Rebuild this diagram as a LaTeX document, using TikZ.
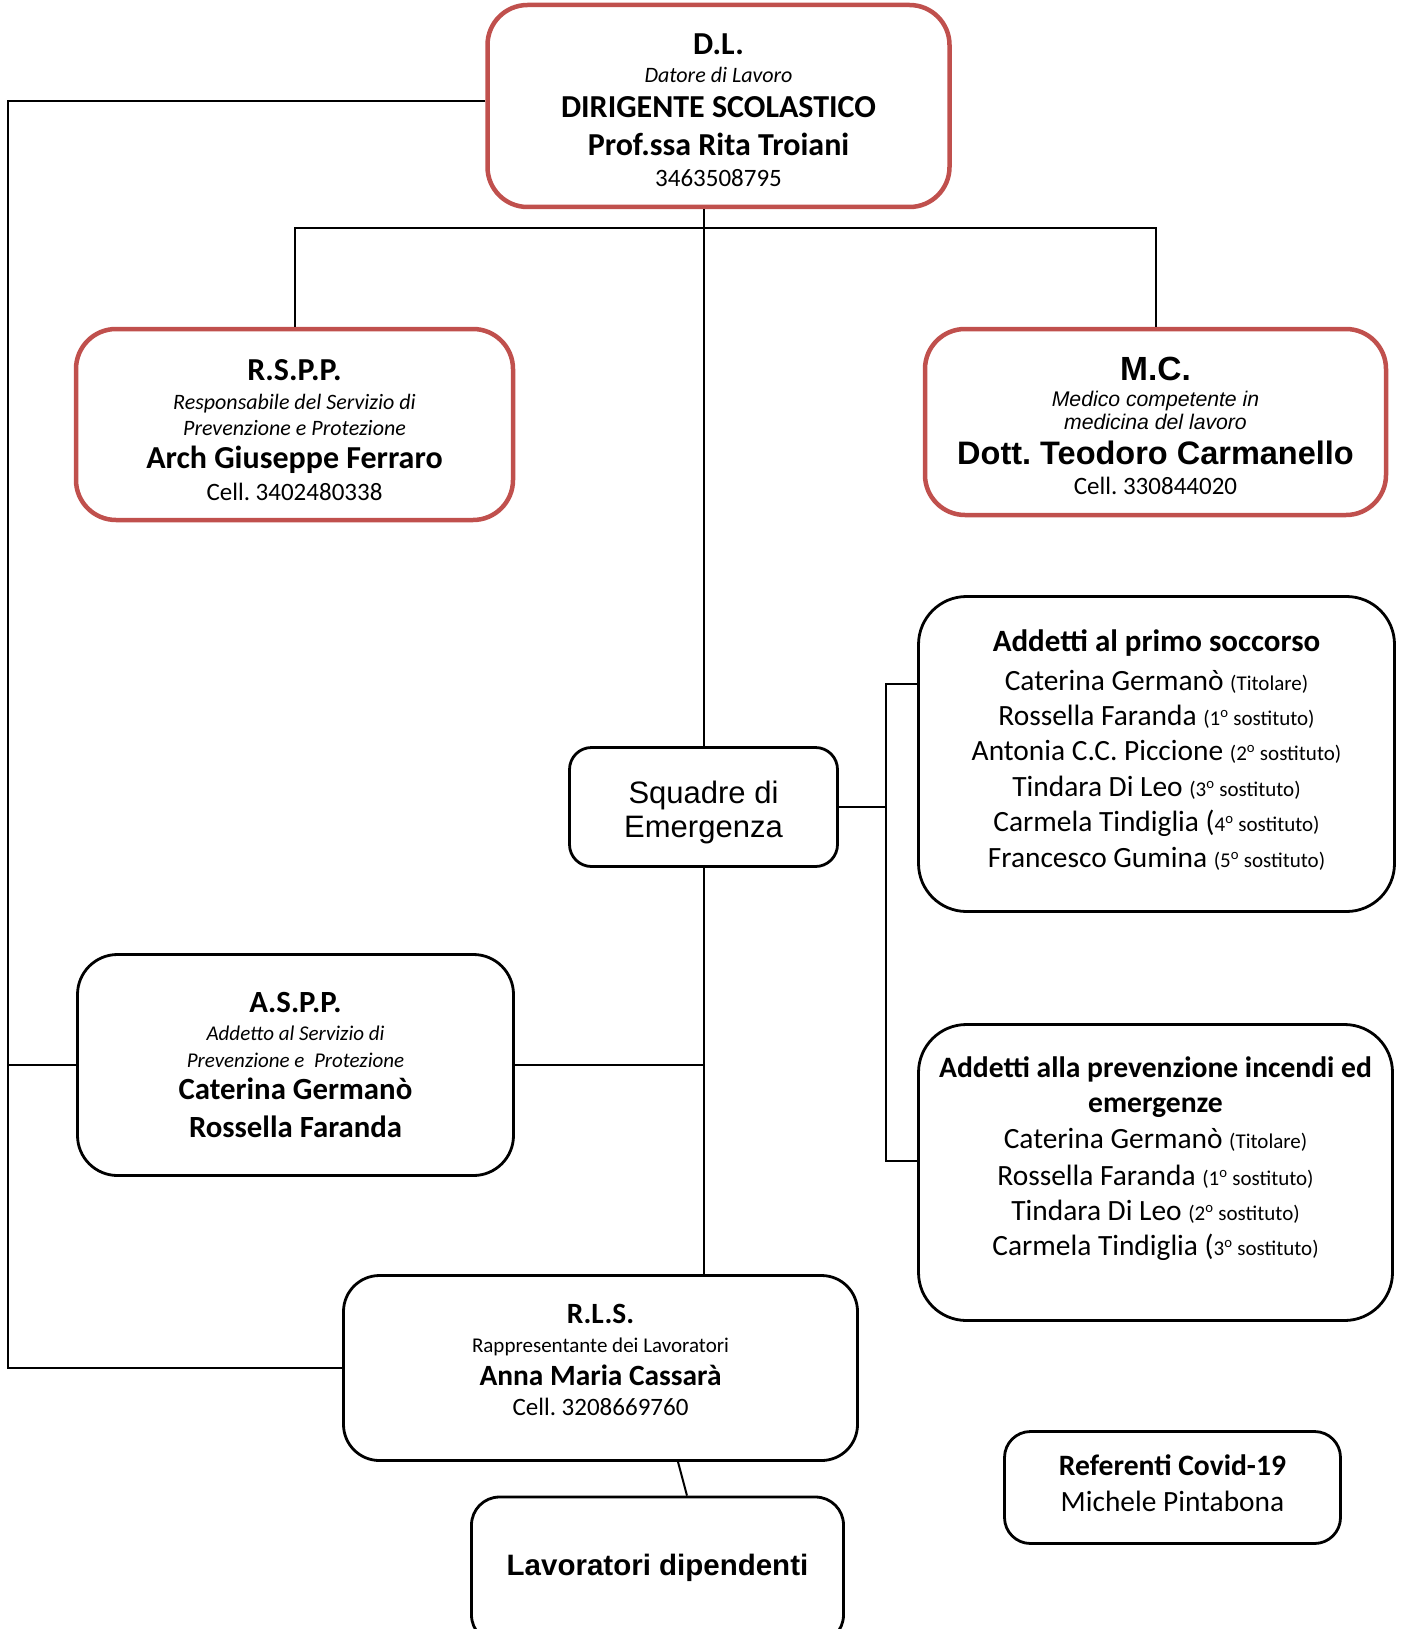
\documentclass[tikz,border=0pt]{standalone}
\usepackage{fontspec}
\setmainfont{Carlito}
\newfontfamily\arialfont{Liberation Sans}
\definecolor{boxred}{RGB}{192,80,77}
\newcommand{\rolefont}{\fontsize{22}{22}\selectfont\itshape}
\newcommand{\phonefont}{\fontsize{25}{25}\selectfont}
\newcommand{\smallnote}[1]{{\fontsize{21}{21}\selectfont #1}}
\newcommand{\boldline}[2]{{\fontsize{#1}{34}\selectfont\bfseries #2}}
\frenchspacing

\begin{document}
\begin{tikzpicture}[x=1pt,y=-1pt]
	\tikzstyle{redbox} = [rectangle,rounded corners=40pt,draw=boxred,line width=4.5pt,inner sep=0pt,align=center,font=\fontsize{32}{34}\selectfont]
	\tikzstyle{blackbox} = [rectangle,rounded corners=40pt,draw=black,line width=2.8pt,inner sep=0pt,align=center,font=\fontsize{29.4}{34}\selectfont]
	\tikzstyle{link} = [line width=2pt]
	\clip (0,0) rectangle (1404,1629);
	% top
	\node[redbox,minimum width=462pt,minimum height=202pt] (dl) at (718.5,106)
		{\rule{0pt}{38pt}{\bfseries D.L.}\\[-6pt]
		{\rolefont Datore di Lavoro}\\[1pt]
		{\bfseries DIRIGENTE SCOLASTICO}\\[4pt]
		{\bfseries Prof.ssa Rita Troiani}\\[-3pt]
		{\phonefont 3463508795}\rule[-8pt]{0pt}{8pt}};
	\node[redbox,minimum width=437pt,minimum height=191pt] (rspp) at (294.5,424.5)
		{\rule{0pt}{39pt}{\bfseries R.S.P.P.}\\[-5pt]
		{\rolefont Responsabile del Servizio di}\\[-8pt]
		{\rolefont Prevenzione e Protezione}\\[-1pt]
		{\bfseries Arch Giuseppe Ferraro}\\[-2pt]
		{\phonefont Cell. 3402480338}\rule[-8pt]{0pt}{8pt}};
	\node[redbox,minimum width=461pt,minimum height=186pt] (mc) at (1155.5,422)
		{\rule{0pt}{38pt}{\arialfont\bfseries\fontsize{33.5}{34}\selectfont M.C.}\\[-8pt]
		{\arialfont\itshape\fontsize{21.2}{22}\selectfont Medico competente in}\\[-11pt]
		{\arialfont\itshape\fontsize{21.2}{22}\selectfont medicina del lavoro}\\[1pt]
		{\arialfont\bfseries\fontsize{32.5}{34}\selectfont Dott. Teodoro Carmanello}\\[-4pt]
		{\phonefont Cell. 330844020}\rule[-8pt]{0pt}{8pt}};
	% emergency teams
	\node[blackbox,rounded corners=22pt,minimum width=268pt,minimum height=119pt] (squadre) at (703.5,807)
		{\rule{0pt}{34pt}{\arialfont\fontsize{31}{34}\selectfont Squadre di}\\
		{\arialfont\fontsize{31}{34}\selectfont Emergenza}\rule[-8pt]{0pt}{8pt}};
	\node[blackbox,rounded corners=48pt,minimum width=476pt,minimum height=315pt] (primo) at (1156.5,754)
		{\rule{0pt}{26pt}\boldline{31}{Addetti al primo soccorso}\\[5pt]
		Caterina Germanò \smallnote{(Titolare)}\\[1pt]
		Rossella Faranda \smallnote{(1\textsuperscript{o} sostituto)}\\[1pt]
		Antonia C.C. Piccione \smallnote{(2\textsuperscript{o} sostituto)}\\[2pt]
		Tindara Di Leo \smallnote{(3\textsuperscript{o} sostituto)}\\[1pt]
		Carmela Tindiglia (\smallnote{4\textsuperscript{o} sostituto)}\\[2pt]
		Francesco Gumina \smallnote{(5\textsuperscript{o} sostituto)}\rule[-16pt]{0pt}{16pt}};
	\node[blackbox,rounded corners=48pt,minimum width=474pt,minimum height=296pt] (incendi) at (1155.5,1172.5)
		{\rule{0pt}{26pt}\boldline{29.6}{Addetti alla prevenzione incendi ed}\\[1pt]
		\boldline{29.6}{emergenze}\\[2pt]
		Caterina Germanò \smallnote{(Titolare)}\\[3pt]
		Rossella Faranda \smallnote{(1\textsuperscript{o} sostituto)}\\[1pt]
		Tindara Di Leo \smallnote{(2\textsuperscript{o} sostituto)}\\[1pt]
		Carmela Tindiglia (\smallnote{3\textsuperscript{o} sostituto)}\rule[-39pt]{0pt}{39pt}};
	% lower left
	\node[blackbox,minimum width=436pt,minimum height=221pt] (aspp) at (295.5,1065)
		{\rule{0pt}{27pt}\boldline{30.8}{A.S.P.P.}\\[-6pt]
		{\fontsize{21}{22}\selectfont\itshape Addetto al Servizio di}\\[-7pt]
		{\fontsize{21}{22}\selectfont\itshape Prevenzione e\ \ Protezione}\\[-2pt]
		\boldline{30.8}{Caterina Germanò}\\[4pt]
		\boldline{30.8}{Rossella Faranda}\rule[-8pt]{0pt}{8pt}};
	\node[blackbox,rounded corners=36pt,minimum width=514pt,minimum height=185pt] (rls) at (600.5,1368)
		{\rule{0pt}{26pt}\boldline{29.4}{R.L.S.}\\[-5pt]
		\smallnote{Rappresentante dei Lavoratori}\\[-1pt]
		\boldline{29.4}{Anna Maria Cassarà}\\[-4pt]
		{\phonefont Cell. 3208669760}\rule[-24pt]{0pt}{24pt}};
	\node[blackbox,rounded corners=28pt,minimum width=372pt,minimum height=146pt] (lavoratori) at (657.5,1570)
		{\rule{0pt}{24pt}{\arialfont\bfseries\fontsize{29.5}{34}\selectfont Lavoratori dipendenti}\rule[-14pt]{0pt}{14pt}};
	\node[blackbox,rounded corners=26pt,minimum width=336pt,minimum height=112pt] (covid) at (1172.5,1487.5)
		{\rule{0pt}{28pt}\boldline{29.6}{Referenti Covid-19}\\[2pt]
		Michele Pintabona\rule[-17pt]{0pt}{17pt}};
	% connections
	\coordinate (bus) at (703,228);
	\coordinate (corner) at (8,101);
	\coordinate (brace top) at (886,684);
	\coordinate (brace bot) at (886,1161);
	\draw[link] (squadre.north) -- (squadre.north |- dl.south);
	\draw[link] (rspp.north) -- (rspp.north |- bus) -- (mc.north |- bus) -- (mc.north);
	\draw[link] (squadre.south) -- (squadre.south |- rls.north);
	\draw[link] (dl.west |- corner) -- (corner) -- (corner |- rls.west) -- (rls.west);
	\draw[link] (aspp.west) -- (aspp.west -| corner);
	\draw[link] (aspp.east) -- (aspp.east -| squadre.south);
	\draw[link] (squadre.east) -- (squadre.east -| brace top);
	\draw[link] (primo.west |- brace top) -- (brace top) -- (brace bot) -- (incendi.west |- brace bot);
	\draw[link] (rls.south -| 678,0) -- (lavoratori.north -| 687,0);
\end{tikzpicture}
\end{document}
